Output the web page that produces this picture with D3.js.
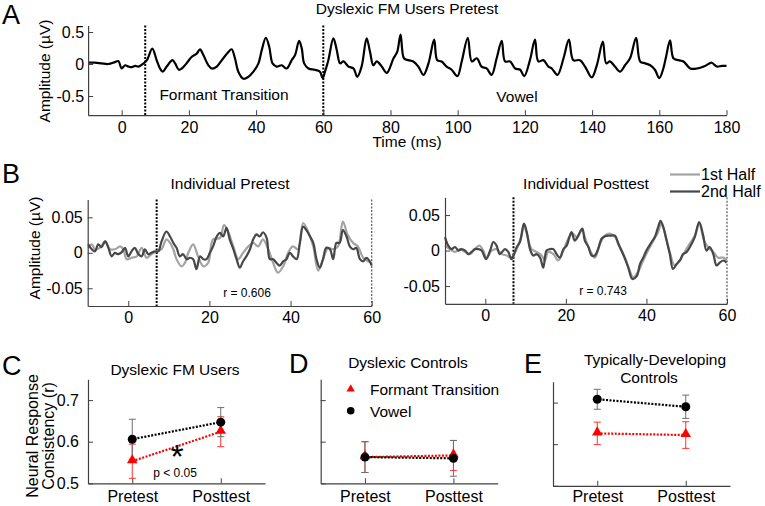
<!DOCTYPE html>
<html><head><meta charset="utf-8">
<script src="https://cdn.jsdelivr.net/npm/d3@7"></script>
<style>body{margin:0;background:#fff}svg{display:block}text{font-family:"Liberation Sans",Arial,Helvetica,sans-serif;fill:#000}</style>
</head><body>
<svg id="c" width="765" height="506"></svg>
<script>
// ---------- Panel A: grand-average waveform [ms, µV] ----------
const aWave = [[-10,0.02],[-8,0.02],[-6,0.01],[-4,0.0],[-2,0.03],[-1,0.045],[0,-0.07],[1,-0.02],[2,-0.04],[3,-0.05],[4,-0.03],[5,-0.04],[6.5,0.01],[7.5,0.06],[9.1,0.24],[10.4,0.06],[11.4,-0.07],[12.2,-0.12],[13.4,-0.04],[15.1,0.06],[15.9,0.01],[17,-0.09],[17.9,-0.07],[19.3,0.01],[20.8,0.11],[22.3,0.16],[23.3,0.23],[24.3,0.14],[25.8,-0.02],[26.8,-0.07],[28.3,-0.04],[29.8,0.06],[31.3,0.16],[32.7,0.23],[33.7,0.09],[34.7,-0.12],[36.2,-0.23],[37.7,-0.2],[39.2,-0.12],[40.7,0.01],[41.7,0.22],[42.9,0.41],[43.9,0.27],[44.9,0.01],[46.1,-0.04],[47.6,-0.02],[49.1,-0.07],[50.6,0.06],[51.6,0.14],[52.8,0.36],[53.6,0.24],[54.3,0.01],[55.6,-0.07],[57.5,-0.09],[59,-0.12],[59.8,-0.22],[60.5,-0.12],[61.5,0.06],[63,0.4],[64,0.22],[65,0.01],[66,0.04],[67.5,-0.04],[69,-0.07],[70.1,-0.2],[71.4,-0.04],[72.9,0.4],[73.9,0.19],[74.9,-0.02],[75.9,0.04],[77.4,-0.04],[78.9,-0.14],[80.9,0.09],[82,0.19],[83,0.46],[84,0.09],[85.3,0.06],[86.8,0.04],[88.3,-0.04],[89.8,-0.17],[91.3,0.01],[93,0.38],[93.9,0.06],[95.2,0.04],[96.7,-0.04],[98.2,-0.09],[99.9,-0.19],[101.2,0.04],[103,0.41],[104.2,0.04],[105.7,0.09],[107.1,-0.04],[108.6,-0.07],[110.1,-0.17],[111.6,0.09],[113.1,0.36],[114.1,0.04],[115.6,0.04],[117.1,-0.07],[118.6,-0.09],[119.8,-0.19],[121.5,0.06],[123,0.38],[124,0.04],[125.5,0.06],[127,-0.04],[128,-0.07],[129.7,-0.17],[131.5,0.09],[133.1,0.38],[134.4,0.06],[136.4,0.06],[137.9,-0.04],[139.9,-0.21],[141.4,-0.02],[143.2,0.35],[144.2,0.01],[145.3,0.04],[146.8,-0.04],[148.3,-0.12],[149.8,-0.02],[151.3,0.09],[153.1,0.41],[154.3,0.04],[155.8,0.01],[157.3,-0.02],[158.7,-0.09],[160,-0.22],[161.2,-0.07],[162,0.11],[163.2,0.37],[164.2,0.09],[165.7,0.06],[167.2,0.04],[169.2,-0.07],[171.2,-0.07],[173.6,-0.03],[175.6,0.02],[177.1,-0.04],[178.6,-0.03],[180,-0.03]];
const aXTicks = [0,20,40,60,80,100,120,140,160,180];
const aYTicks = [-0.5,0,0.5];
const boundaries = [7,60];

// ---------- Panel B: individual subaverages [ms, µV] ----------
const bPreFirst = [[-9.9,0.007],[-9,0.012],[-8.2,0.005],[-7,0.007],[-5.7,0.016],[-4.5,0.005],[-3.3,0.005],[-2,0.009],[-1.2,0.005],[-0.4,-0.009],[0.8,-0.007],[2.1,-0.005],[3.3,0.007],[4.5,-0.007],[5.7,-0.002],[7,0.002],[8.2,0.005],[9.4,0.019],[10.3,0.014],[11.1,0.005],[11.9,-0.009],[13.1,-0.019],[14,-0.014],[14.8,0],[16,0.012],[17.2,-0.005],[18.5,-0.019],[19.7,-0.014],[20.9,0.019],[22.6,0.021],[23.6,0.039],[24.6,0.03],[25.9,0.009],[27.1,-0.009],[28.3,0],[29.6,0.009],[30.8,0.014],[32,0.009],[33.2,0.019],[34.5,0.005],[35.7,-0.014],[36.9,-0.028],[38.2,-0.019],[39.4,0],[40.6,0.009],[41.8,0.005],[43.1,0.042],[44.3,0.03],[45.6,0.009],[46.8,-0.025],[48,-0.009],[49.3,0.007],[50.5,0.005],[51.7,0.009],[52.9,0.044],[54.1,0.025],[55.4,0.014],[56.6,0.009],[57.9,-0.007],[59.1,-0.012],[60,-0.014]];
const bPreSecond = [[-9.9,0.012],[-9,0.005],[-8.2,0.002],[-7.4,0.012],[-6.6,0.008],[-5.7,0.016],[-4.9,0.007],[-4.1,-0.005],[-3.3,0],[-2.5,-0.002],[-1.6,0.001],[-0.8,0.007],[0,-0.005],[0.8,0.002],[1.6,0.007],[2.5,-0.002],[3.3,-0.005],[4.1,0.005],[4.9,-0.002],[5.7,0],[6.6,0.002],[7.4,0.002],[8.2,0.016],[9.4,0.03],[10.3,0.023],[11.1,0.014],[11.9,0.007],[12.7,-0.005],[13.5,-0.002],[14.4,-0.009],[15.2,-0.007],[16,-0.009],[16.8,-0.023],[17.7,-0.005],[18.5,-0.009],[19.3,-0.009],[20.1,0],[20.9,0.009],[21.8,0.023],[22.6,0.028],[23.4,0.023],[24.2,0.035],[25,0.019],[25.9,0.005],[26.7,-0.009],[27.5,-0.021],[28.3,-0.012],[29.1,-0.005],[30,0.005],[30.8,0.019],[31.6,0.026],[32.4,0.023],[33.2,0.029],[34.1,0.021],[34.9,-0.009],[35.7,-0.009],[36.5,-0.014],[37.3,-0.018],[38.2,-0.012],[39,-0.009],[39.8,0],[40.6,-0.005],[41.5,-0.009],[42.3,0.014],[43.1,0.037],[43.9,0.032],[44.8,0.023],[45.6,0.014],[46.4,-0.009],[47.2,-0.021],[48,-0.009],[48.8,0.007],[49.7,0.005],[50.5,-0.009],[51.3,0.014],[52.1,0.014],[52.9,0.032],[53.8,0.023],[54.6,0.009],[55.4,0.005],[56.2,0.007],[57.1,-0.009],[57.9,-0.012],[58.7,-0.007],[59.5,-0.012],[60,-0.018]];
const bPostFirst = [[-10,0.007],[-8.8,0.002],[-7.5,-0.002],[-6.3,0.002],[-5,-0.002],[-3.8,-0.005],[-2.6,0.002],[-1.5,0.007],[-0.5,0],[0.3,-0.01],[1.6,0],[2.8,0.002],[4.1,-0.005],[5.3,-0.007],[6.5,-0.01],[7.8,0.002],[9,0.021],[9.6,0.036],[10.4,0.021],[11.5,0.002],[12.7,-0.002],[14,-0.007],[14.8,-0.014],[15.6,-0.002],[16.9,-0.005],[18.1,-0.014],[19.4,0],[20.6,0.017],[21.7,0.024],[22.7,0.019],[23.9,0.029],[25,0.014],[26,0],[27.2,-0.01],[28.5,0.01],[29.7,0.021],[30.9,0.024],[32.2,0.019],[33.4,0.005],[34.7,-0.01],[35.9,-0.029],[36.7,-0.038],[38,-0.029],[39.2,-0.014],[40.4,0],[41.7,0.014],[42.9,0.026],[43.7,0.038],[44.5,0.026],[45.8,-0.002],[47,-0.021],[48.3,-0.014],[49.5,-0.002],[50.8,0.01],[52,0.021],[53.1,0.038],[54.3,0.014],[55.3,0.005],[56.6,-0.002],[57.8,-0.01],[59.1,-0.01],[59.9,-0.014]];
const bPostSecond = [[-10,0.019],[-9.2,0.007],[-8.4,0.002],[-7.5,0.005],[-6.7,0],[-5.9,0.002],[-5,0],[-4.2,-0.005],[-3.4,-0.002],[-2.6,0.002],[-1.7,0.002],[-0.9,0],[0.2,-0.012],[1.2,0],[2,0.012],[2.8,0.007],[3.6,-0.005],[4.9,0.002],[5.7,-0.002],[6.5,-0.012],[7,-0.007],[7.8,0.005],[8.6,0.012],[9.6,0.038],[10.3,0.026],[11.1,0.002],[11.9,-0.007],[12.7,-0.005],[13.6,-0.01],[14.4,-0.024],[15.2,0],[16,0.002],[16.9,0.002],[17.7,-0.005],[18.5,-0.01],[19.4,0.002],[20.2,0.007],[21.4,0.026],[22.2,0.014],[23.1,0.021],[24.1,0.031],[24.7,0.014],[25.6,0.005],[26.4,-0.007],[27.2,-0.007],[28,0.002],[28.9,0.017],[29.7,0.02],[30.5,0.021],[31.3,0.021],[32.2,0.021],[33,0.01],[33.8,0],[34.7,-0.012],[35.5,-0.024],[36.5,-0.04],[37.6,-0.036],[38.4,-0.019],[39.2,-0.01],[40,0],[41.3,0.012],[42.1,0.019],[42.9,0.033],[43.5,0.042],[44.2,0.033],[45,0.014],[45.8,-0.005],[46.6,-0.026],[47.5,-0.019],[48.3,-0.014],[49.1,-0.005],[50,-0.002],[50.8,0.005],[52,0.019],[53.1,0.04],[54.1,0.021],[54.9,0],[55.7,0.005],[56.6,-0.005],[57.4,-0.021],[58.2,-0.017],[59.1,-0.014],[59.9,-0.017]];
const bXTicks = [0,20,40,60];
const bYTicks = [-0.05,0,0.05];
const bR = ["r = 0.606","r = 0.743"];

// ---------- Panels C-E: neural response consistency ----------
const sessions = ["Pretest","Posttest"];
const fmFormant = [0.553,0.624], fmFormantErr = [0.041,0.036];
const fmVowel   = [0.606,0.647], fmVowelErr   = [0.048,0.035];
const dcFormant = [0.563,0.567], dcFormantErr = [0.037,0.036];
const dcVowel   = [0.563,0.560], dcVowelErr   = [0.037,0.043];
const tdFormant = [0.626,0.622], tdFormantErr = [0.027,0.032];
const tdVowel   = [0.708,0.690], tdVowelErr   = [0.024,0.028];
const cYTicks = [0.5,0.6,0.7];

const svg = d3.select("#c");
const AX = "#404040";
const fmtNum = d => (d<0?"-":"") + String(Math.abs(d));

function axes(xs, ys, xt, yt, xf, yf, o) {
  const gx = svg.append("g").attr("transform", `translate(0,${ys.range()[0]})`)
    .call(d3.axisBottom(xs).tickValues(xt).tickFormat(xf).tickSize(-5).tickSizeOuter(0).tickPadding(o.xpad));
  const gy = svg.append("g").attr("transform", `translate(${xs.range()[0]},0)`)
    .call(d3.axisLeft(ys).tickValues(yt).tickFormat(yf).tickSize(-5).tickSizeOuter(0).tickPadding(o.ypad));
  [gx, gy].forEach(g => {
    g.select(".domain").attr("stroke", AX).attr("stroke-width", 1.2);
    g.selectAll(".tick line").attr("stroke", AX).attr("stroke-width", 1);
    g.selectAll(".tick text").attr("fill", "#000").style("font-family", '"Liberation Sans",Arial,sans-serif');
  });
  gx.selectAll(".tick text").style("font-size", o.fs + "px");
  gy.selectAll(".tick text").style("font-size", o.fs + "px");
}
function txt(x, y, s, fs, anchor, extra) {
  const t = svg.append("text").attr("x", x).attr("y", y).attr("font-size", fs)
    .attr("text-anchor", anchor || "middle").text(s);
  if (extra) extra(t);
  return t;
}

// ---------- Panel A ----------
const ax = d3.scaleLinear().domain([-10,180]).range([88.1,726.5]);
const ay = d3.scaleLinear().domain([-0.8,0.6]).range([115.2,25.6]);
boundaries.forEach(b => svg.append("line").attr("x1", ax(b)).attr("x2", ax(b))
  .attr("y1", ay(0.6)).attr("y2", ay(-0.8)).attr("stroke", "#000")
  .attr("stroke-width", 2).attr("stroke-dasharray", "2,1.5"));
svg.append("path").datum(aWave).attr("fill", "none").attr("stroke", "#000").attr("stroke-width", 2.2)
  .attr("stroke-linejoin", "round")
  .attr("d", d3.line().x(d => ax(d[0])).y(d => ay(d[1])).curve(d3.curveCatmullRom));
axes(ax, ay, aXTicks, aYTicks, d => d, fmtNum, {xpad: 6, ypad: 4, fs: 16});
txt(407, 14, "Dyslexic FM Users Pretest", 15.5);
txt(224, 100, "Formant Transition", 15.5);
txt(517, 101.5, "Vowel", 15.5);
txt(407, 147, "Time (ms)", 15.5);
txt(0, 0, "Amplitude (µV)", 15.5, "middle", t => t.attr("transform", "translate(50,71) rotate(-90)").attr("x", 0).attr("y", 0));
txt(2, 23.5, "A", 27, "start");

// ---------- Panel B ----------
const bPanels = [
  {x: d3.scaleLinear().domain([-10,60]).range([87.7,371.7]),
   y: d3.scaleLinear().domain([-0.075,0.075]).range([306,199.6]),
   first: bPreFirst, second: bPreSecond, title: "Individual Pretest", tx: 230, r: bR[0], rx: 247, ry: 297},
  {x: d3.scaleLinear().domain([-10,60]).range([445,727]),
   y: d3.scaleLinear().domain([-0.075,0.075]).range([303.8,197.3]),
   first: bPostFirst, second: bPostSecond, title: "Individual Posttest", tx: 586, r: bR[1], rx: 603, ry: 295}
];
bPanels.forEach(p => {
  svg.append("line").attr("x1", p.x(7)).attr("x2", p.x(7)).attr("y1", p.y(0.075)).attr("y2", p.y(-0.075))
    .attr("stroke", "#000").attr("stroke-width", 2).attr("stroke-dasharray", "2,1.5");
  svg.append("line").attr("x1", p.x(60)).attr("x2", p.x(60)).attr("y1", p.y(0.075)).attr("y2", p.y(-0.075))
    .attr("stroke", "#555").attr("stroke-width", 1.2).attr("stroke-dasharray", "2,1.5");
  const ln = d3.line().x(d => p.x(d[0])).y(d => p.y(d[1])).curve(d3.curveCatmullRom);
  svg.append("path").datum(p.first).attr("fill", "none").attr("stroke", "#a3a3a3").attr("stroke-width", 2.2).attr("d", ln);
  svg.append("path").datum(p.second).attr("fill", "none").attr("stroke", "#474747").attr("stroke-width", 2.2).attr("d", ln);
  axes(p.x, p.y, bXTicks, bYTicks, d => d, fmtNum, {xpad: 5.5, ypad: 5, fs: 16});
  txt(p.tx, 188.5, p.title, 15.5);
  txt(p.rx, p.ry, p.r, 12);
});
txt(0, 0, "Amplitude (µV)", 15.5, "middle", t => t.attr("transform", "translate(40,248) rotate(-90)").attr("x", 0).attr("y", 0));
txt(2, 183, "B", 27, "start");
// legend
[["1st Half", "#a3a3a3", 174.5, 180], ["2nd Half", "#474747", 191.5, 196.5]].forEach(l => {
  svg.append("line").attr("x1", 670).attr("x2", 700).attr("y1", l[2]).attr("y2", l[2]).attr("stroke", l[1]).attr("stroke-width", 2.2);
  txt(701, l[3], l[0], 16, "start");
});

// ---------- Panels C, D, E ----------
const tri = d3.symbol().type(d3.symbolTriangle).size(48);
const cdPanels = [
  {x0: 88, y0: 483.3, formant: fmFormant, fErr: fmFormantErr, vowel: fmVowel, vErr: fmVowelErr, labels: true, xpad: 7},
  {x0: 320.7, y0: 483.3, formant: dcFormant, fErr: dcFormantErr, vowel: dcVowel, vErr: dcVowelErr, labels: false, xpad: 7},
  {x0: 553, y0: 485.8, formant: tdFormant, fErr: tdFormantErr, vowel: tdVowel, vErr: tdVowelErr, labels: false, xpad: 5}
];
cdPanels.forEach(p => {
  const xs = d3.scaleLinear().domain([0.5,2.5]).range([p.x0, p.x0 + 177]);
  const ys = d3.scaleLinear().domain([0.5,0.75]).range([p.y0, p.y0 - 104]);
  axes(xs, ys, [1,2], cYTicks, (d, i) => sessions[i], p.labels ? (d => d.toFixed(1)) : (() => ""), {xpad: p.xpad, ypad: 9, fs: 16});
  const lineF = d3.line().x((d, i) => xs(i + 1)).y(d => ys(d));
  svg.append("path").datum(p.formant).attr("fill", "none").attr("stroke", "#ff0000").attr("stroke-width", 2.2).attr("stroke-dasharray", "2,1.5").attr("d", lineF);
  svg.append("path").datum(p.vowel).attr("fill", "none").attr("stroke", "#000").attr("stroke-width", 2.2).attr("stroke-dasharray", "2,1.5").attr("stroke-dashoffset", 1.7).attr("d", lineF);
  const eb = (vals, errs, col) => vals.forEach((v, i) => {
    const cx = xs(i + 1);
    svg.append("line").attr("x1", cx).attr("x2", cx).attr("y1", ys(v - errs[i])).attr("y2", ys(v + errs[i])).attr("stroke", col).attr("stroke-width", 1);
    [v - errs[i], v + errs[i]].forEach(e => svg.append("line").attr("x1", cx - 3.5).attr("x2", cx + 3.5).attr("y1", ys(e)).attr("y2", ys(e)).attr("stroke", col).attr("stroke-width", 1));
  });
  eb(p.formant, p.fErr, "#ff3030");
  eb(p.vowel, p.vErr, "#6e6e6e");
  p.formant.forEach((v, i) => svg.append("path").attr("d", tri).attr("fill", "#ff0000").attr("transform", `translate(${xs(i + 1)},${ys(v) - 1})`));
  p.vowel.forEach((v, i) => svg.append("circle").attr("cx", xs(i + 1)).attr("cy", ys(v)).attr("r", 4.5).attr("fill", "#000"));
});
txt(175, 374.5, "Dyslexic FM Users", 15.5);
txt(408, 368, "Dyslexic Controls", 15.5);
txt(655, 364.5, "Typically-Developing", 15.5);
txt(649, 382.5, "Controls", 15.5);
txt(177, 468, "*", 34, "middle");
txt(175, 477, "p < 0.05", 12);
txt(0, 0, "Neural Response", 16, "middle", t => t.attr("transform", "translate(38,436) rotate(-90)"));
txt(0, 0, "Consistency (r)", 16, "middle", t => t.attr("transform", "translate(54,436) rotate(-90)"));
txt(2, 375, "C", 27, "start");
txt(289, 373, "D", 27, "start");
txt(524, 373, "E", 27, "start");
// legend in D
svg.append("path").attr("d", d3.symbol().type(d3.symbolTriangle).size(30)).attr("fill", "#ff0000").attr("transform", "translate(350.7,389)");
svg.append("circle").attr("cx", 350.7).attr("cy", 410.7).attr("r", 3.8).attr("fill", "#000");
txt(370, 395, "Formant Transition", 15.5, "start");
txt(370, 416.5, "Vowel", 15.5, "start");
</script>
</body></html>
